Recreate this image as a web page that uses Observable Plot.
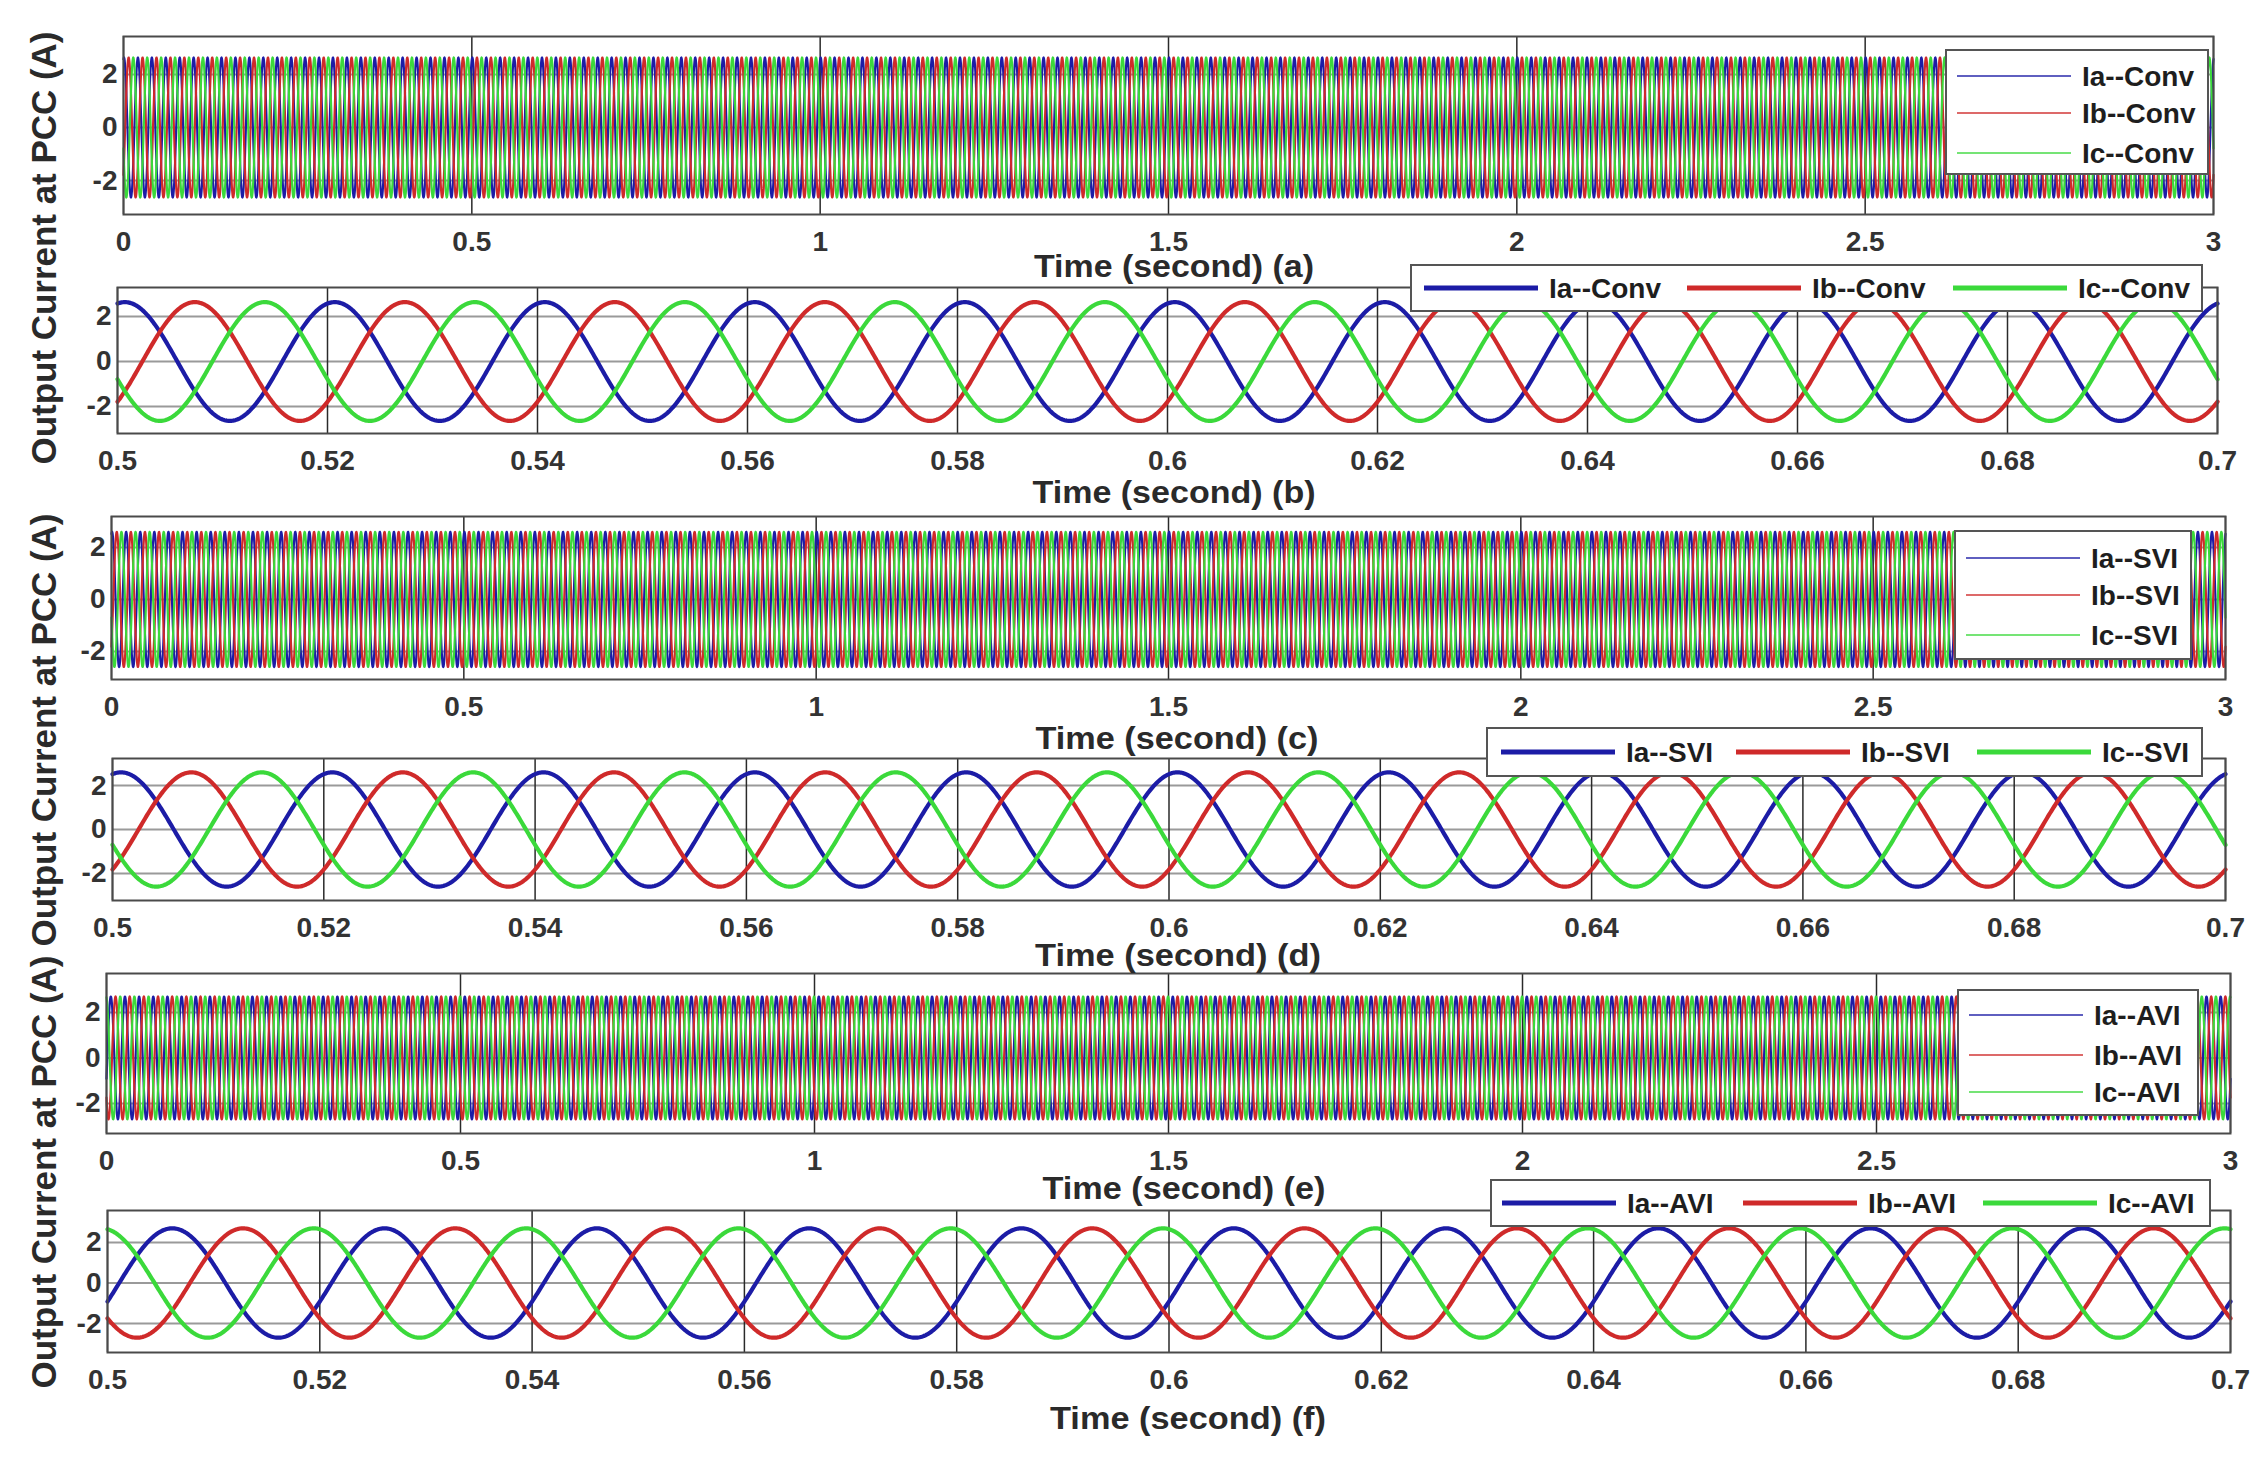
<!DOCTYPE html>
<html><head><meta charset="utf-8">
<script src="https://cdn.jsdelivr.net/npm/d3@7"></script>
<script src="https://cdn.jsdelivr.net/npm/@observablehq/plot@0.6"></script>
<style>
body{margin:0;background:#fff;}
#fig{position:relative;width:2267px;height:1461px;overflow:hidden;background:#fff;font-family:"Liberation Sans",Arial,sans-serif;}
#fig > svg{position:absolute;left:0;overflow:visible;}
.legend{position:absolute;background:#fff;border:2px solid #555;box-sizing:border-box;}
.legend svg{position:absolute;left:0;top:0;overflow:visible;}
</style></head><body><div id="fig"></div><script>
// ---------------- data ----------------
const controllers = ["Conv", "SVI", "AVI"];
const phaseNames = ["Ia", "Ib", "Ic"];
const phaseColors = ["#1c1ca6", "#cf2a2a", "#3bd93b"];
const phaseLagDeg = [0, 120, 240];
const gridFrequencyHz = 50;                 // 10 cycles in 0.2 s
const peakCurrentA = [2.64, 2.6, 2.7];      // Conv, SVI, AVI
const iaPeakTimeS = [0.5007, 0.5008, 0.5061]; // time of an Ia peak
const overviewTicks = [0, 0.5, 1, 1.5, 2, 2.5, 3];
const zoomTicks = [0.5, 0.52, 0.54, 0.56, 0.58, 0.6, 0.62, 0.64, 0.66, 0.68, 0.7];
const currentTicks = [-2, 0, 2];
const panelLetters = ["a", "b", "c", "d", "e", "f"];
const yAxisTitle = "Output Current at PCC (A)";
const xAxisTitle = "Time (second)";

// ---------------- layout (style only) ----------------
const W = 2267, H = 1461;
const panels = [
  {L:123, R:2213, T:36,   B:214,  y:[-3.28, 3.43], tx:1174, ty:277,  tl:280},
  {L:117, R:2217, T:287,  B:433,  y:[-3.20, 3.29], tx:1174, ty:503,  tl:283},
  {L:111, R:2225, T:516,  B:679,  y:[-3.08, 3.19], tx:1177, ty:749,  tl:283},
  {L:112, R:2225, T:758,  B:900,  y:[-3.23, 3.23], tx:1178, ty:966,  tl:286},
  {L:106, R:2230, T:973,  B:1133, y:[-3.32, 3.71], tx:1184, ty:1199, tl:283},
  {L:107, R:2230, T:1210, B:1352, y:[-3.43, 3.58], tx:1188, ty:1429, tl:276}
];
const legends = [
  {x:1945, y:49,   w:264, h:126, dir:"v", rows:[27, 64, 104]},
  {x:1410, y:264,  w:793, h:48,  dir:"h", items:[14, 277, 543]},
  {x:1954, y:530,  w:238, h:130, dir:"v", rows:[28, 65, 105]},
  {x:1486, y:727,  w:717, h:50,  dir:"h", items:[15, 250, 491]},
  {x:1957, y:989,  w:242, h:127, dir:"v", rows:[26, 66, 103]},
  {x:1490, y:1179, w:721, h:48,  dir:"h", items:[12, 253, 493]}
];
const yLabelCenters = [248, 730, 1172];

const fig = d3.select("#fig");
const fmt = d => String(+d.toFixed(3));

panels.forEach((p, i) => {
  const ctrl = Math.floor(i / 2);
  const overview = i % 2 === 0;
  const xt = overview ? overviewTicks : zoomTicks;
  const t0 = xt[0], t1 = xt[xt.length - 1];
  const step = overview ? 0.0004 : 0.0001;
  const n = Math.round((t1 - t0) / step);
  const rows = [];
  phaseNames.forEach((ph, k) => {
    for (let j = 0; j <= n; j++) {
      const t = t0 + j * step;
      rows.push({t, v: peakCurrentA[ctrl] * Math.cos(2 * Math.PI * gridFrequencyHz * (t - iaPeakTimeS[ctrl]) - phaseLagDeg[k] * Math.PI / 180), ph});
    }
  });
  const mt = 6, mb = 60;
  const svg = Plot.plot({
    width: W, height: (p.B - p.T) + mt + mb,
    marginLeft: p.L, marginRight: W - p.R, marginTop: mt, marginBottom: mb,
    x: {domain: [t0, t1], axis: null},
    y: {domain: p.y, axis: null},
    color: {domain: phaseNames, range: phaseColors},
    style: {fontFamily: '"Liberation Sans", Arial, sans-serif', fontSize: "28px", fontWeight: "bold", color: "#333", background: "transparent", overflow: "visible"},
    marks: [
      Plot.ruleY(currentTicks, {stroke: "#9a9a9a", strokeWidth: 2}),
      Plot.ruleX(xt, {stroke: "#2a2a2a", strokeWidth: 1.5}),
      Plot.line(rows, {x: "t", y: "v", z: "ph", stroke: "ph", strokeWidth: overview ? 2.2 : 4.2}),
      Plot.frame({stroke: "#4a4a4a", strokeWidth: 2}),
      Plot.axisX(xt, {tickSize: 0, tickPadding: 17, tickFormat: fmt, label: null, fontSize: 28, fontWeight: "bold", fill: "#333"}),
      Plot.axisY(currentTicks, {tickSize: 0, tickPadding: 6, tickFormat: d => String(d), label: null, fontSize: 28, fontWeight: "bold", fill: "#333"})
    ]
  });
  svg.style.top = (p.T - mt) + "px";
  fig.node().appendChild(svg);

  // legend
  const lg = legends[i];
  const div = fig.append("div").attr("class", "legend")
    .style("left", lg.x + "px").style("top", lg.y + "px")
    .style("width", lg.w + "px").style("height", lg.h + "px");
  const s = div.append("svg").attr("width", lg.w).attr("height", lg.h);
  const lineLen = 114, gap = 11;
  phaseNames.forEach((ph, k) => {
    const lx = lg.dir === "v" ? 10 : lg.items[k] - 2;
    const ly = lg.dir === "v" ? lg.rows[k] - 2 : lg.h / 2 - 2;
    s.append("line").attr("x1", lx).attr("x2", lx + lineLen).attr("y1", ly).attr("y2", ly)
      .attr("stroke", phaseColors[k]).attr("stroke-width", overview ? 2 : 5)
      .attr("opacity", overview ? 0.7 : 1);
    s.append("text").attr("x", lx + lineLen + gap).attr("y", ly + 10)
      .attr("font-family", '"Liberation Sans", Arial, sans-serif').attr("font-size", 28)
      .attr("font-weight", "bold").attr("fill", "#1e1e1e")
      .text(ph + "--" + controllers[ctrl]);
  });
});

// overlay texts: axis titles
const ov = fig.append("svg").attr("width", W).attr("height", H).style("top", "0px").style("pointer-events", "none");
panels.forEach((p, i) => {
  ov.append("text").attr("x", p.tx).attr("y", p.ty).attr("text-anchor", "middle")
    .attr("font-family", '"Liberation Sans", Arial, sans-serif').attr("font-size", 31)
    .attr("font-weight", "bold").attr("fill", "#2a2a2a")
    .attr("textLength", p.tl).attr("lengthAdjust", "spacingAndGlyphs")
    .text(`${xAxisTitle} (${panelLetters[i]})`);
});
yLabelCenters.forEach(cy => {
  ov.append("text").attr("transform", `translate(56,${cy}) rotate(-90)`).attr("text-anchor", "middle")
    .attr("font-family", '"Liberation Sans", Arial, sans-serif').attr("font-size", 35)
    .attr("font-weight", "bold").attr("fill", "#2a2a2a")
    .attr("textLength", 433).attr("lengthAdjust", "spacingAndGlyphs")
    .text(yAxisTitle);
});
</script></body></html>
